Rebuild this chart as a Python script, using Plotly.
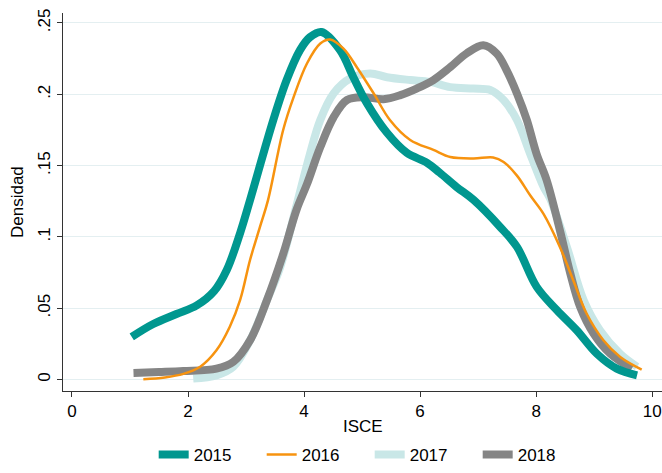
import plotly.graph_objects as go

# ---- data ----
x15 = [1.03, 1.4, 1.8, 2.15, 2.45, 2.67, 2.9, 3.07, 3.47, 3.70, 3.93, 4.10, 4.30, 4.62, 4.85, 5.08,
       5.43, 5.77, 6.12, 6.34, 6.63, 6.92, 7.38, 7.67, 8.01, 8.36, 8.70, 9.05, 9.39, 9.74]
y15 = [0.030, 0.039, 0.046, 0.052, 0.062, 0.077, 0.103, 0.126, 0.182, 0.210, 0.231, 0.240, 0.2437,
       0.231, 0.212, 0.194, 0.173, 0.159, 0.152, 0.145, 0.135, 0.126, 0.107, 0.093, 0.065, 0.0486,
       0.0346, 0.018, 0.0077, 0.003]

x16 = [1.23, 1.6, 1.92, 2.21, 2.49, 2.72, 2.90, 3.07, 3.24, 3.38, 3.64, 3.82, 4.05, 4.28, 4.45, 4.68,
       4.91, 5.20, 5.48, 5.83, 6.23, 6.52, 6.92, 7.26, 7.44, 7.67, 7.90, 8.13, 8.41, 8.64, 8.87, 9.16,
       9.45, 9.82]
y16 = [0.0003, 0.0015, 0.004, 0.009, 0.0205, 0.037, 0.056, 0.084, 0.107, 0.126, 0.175, 0.198, 0.2216,
       0.2356, 0.2384, 0.232, 0.219, 0.2006, 0.182, 0.168, 0.161, 0.156, 0.155, 0.1557, 0.1526, 0.143,
       0.129, 0.116, 0.093, 0.0696, 0.0463, 0.0276, 0.0159, 0.007]

x17 = [2.09, 2.49, 2.78, 3.07, 3.36, 3.59, 3.87, 4.10, 4.28, 4.51, 4.79, 5.14, 5.43, 5.83, 6.17, 6.52,
       6.92, 7.21, 7.44, 7.67, 7.90, 8.13, 8.24, 8.53, 8.82, 9.10, 9.45, 9.74]
y17 = [0.0007, 0.003, 0.009, 0.0276, 0.0556, 0.079, 0.122, 0.158, 0.182, 0.2006, 0.211, 0.2146, 0.212,
       0.210, 0.2087, 0.205, 0.204, 0.203, 0.196, 0.182, 0.158, 0.135, 0.127, 0.093, 0.0556, 0.0346,
       0.018, 0.009]

x18 = [1.06, 1.5, 1.92, 2.49, 2.78, 3.07, 3.36, 3.64, 3.87, 4.05, 4.28, 4.51, 4.74, 5.02, 5.37, 5.66,
       5.94, 6.23, 6.52, 6.80, 7.09, 7.32, 7.49, 7.67, 7.84, 8.01, 8.18, 8.41, 8.59, 8.76, 8.99, 9.28,
       9.65]
y18 = [0.0047, 0.0053, 0.006, 0.0077, 0.0124, 0.0276, 0.0556, 0.088, 0.119, 0.137, 0.163, 0.184, 0.196,
       0.198, 0.1966, 0.1994, 0.204, 0.21, 0.219, 0.2286, 0.2344, 0.2286, 0.217, 0.2006, 0.182, 0.158,
       0.14, 0.1047, 0.0743, 0.0509, 0.0323, 0.018, 0.0077]

x_ticks = [0, 2, 4, 6, 8, 10]
x_tick_labels = ["0", "2", "4", "6", "8", "10"]
y_ticks = [0, 0.05, 0.1, 0.15, 0.2, 0.25]
y_tick_labels = ["0", ".05", ".1", ".15", ".2", ".25"]

FONT = "Liberation Sans, Arial, sans-serif"

series = [
    # name, x, y, color, width, legend rank
    ("2017", x17, y17, "#c9e7e7", 8, 3),
    ("2018", x18, y18, "#858585", 8, 4),
    ("2015", x15, y15, "#00978f", 8, 1),
    ("2016", x16, y16, "#f7930f", 2.5, 2),
]

fig = go.Figure()
for name, xs, ys, col, w, rank in series:
    fig.add_trace(go.Scatter(
        x=xs, y=ys, mode="lines", name=name, legendrank=rank,
        line=dict(color=col, width=w, shape="spline", smoothing=1.0),
    ))

fig.update_layout(
    width=662, height=473,
    margin=dict(l=63, r=0, t=13, b=82),
    paper_bgcolor="white", plot_bgcolor="white",
    font=dict(family=FONT, size=17, color="black"),
    showlegend=True,
    legend=dict(
        orientation="h", x=0.512, xanchor="center",
        yref="container", y=0, yanchor="bottom",
        entrywidth=63, entrywidthmode="pixels",
        font=dict(family=FONT, size=17, color="black"),
        bgcolor="rgba(0,0,0,0)",
    ),
    xaxis=dict(
        range=[-0.155, 10.17], tickvals=x_ticks, ticktext=x_tick_labels,
        showgrid=False, zeroline=False,
        showline=True, linecolor="#333333", linewidth=1,
        ticks="outside", ticklen=5, tickcolor="#333333",
        tickfont=dict(family=FONT, size=17, color="black"),
    ),
    yaxis=dict(
        range=[-0.008, 0.257], tickvals=y_ticks, ticktext=y_tick_labels,
        showgrid=True, gridcolor="#e4eff1", gridwidth=1, zeroline=False,
        showline=True, linecolor="#333333", linewidth=1,
        ticks="outside", ticklen=5, tickcolor="#333333", tickangle=-90,
        tickfont=dict(family=FONT, size=17, color="black"),
    ),
    annotations=[
        dict(text="ISCE", xref="paper", yref="paper", x=0.5, y=0, xanchor="center",
             yanchor="middle", yshift=-35, showarrow=False,
             font=dict(family=FONT, size=17, color="black")),
        dict(text="Densidad", xref="paper", yref="paper", x=0, y=0.5, xanchor="center",
             yanchor="middle", xshift=-46, textangle=-90, showarrow=False,
             font=dict(family=FONT, size=17, color="black")),
    ],
)

fig.write_html(
    "out.html",
    config={"displayModeBar": False},
    post_script="document.body.style.margin='0';document.body.style.overflow='hidden';",
)
